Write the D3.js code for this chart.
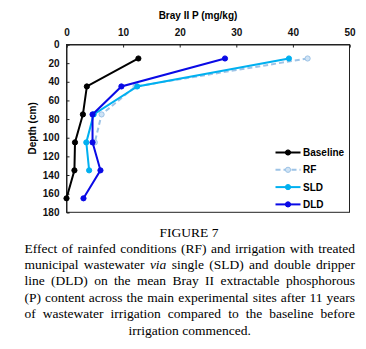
<!DOCTYPE html>
<html>
<head>
<meta charset="utf-8">
<script src="https://cdn.jsdelivr.net/npm/d3@7"></script>
<style>
  body { margin: 0; background: #fff; }
  svg { display: block; }
  .sans { font-family: Arial, Helvetica, "Liberation Sans", sans-serif; font-weight: bold; font-size: 10px; }
  .serif { font-family: "Times New Roman", Times, "Liberation Serif", serif; font-size: 13.5px; }
</style>
</head>
<body>
<div id="chart"></div>
<script>
var depths = [15, 45, 75, 105, 135, 165];
var baseline = [12.7, 3.6, 2.9, 1.5, 1.4, 0];
var rf = [42.6, 12.2, 6.2, 5.0];
var sld = [39.3, 12.5, 4.8, 3.5, 4.0];
var dld = [28.0, 9.7, 4.6, 4.6, 6.0, 3.0];
var xTicks = [0, 10, 20, 30, 40, 50];
var yTicks = [0, 20, 40, 60, 80, 100, 120, 140, 160, 180];

var series = [
  {name: "Baseline", values: baseline, color: "#000000", dash: null, fill: "#000000"},
  {name: "RF", values: rf, color: "#9dc3e6", dash: "5,3", fill: "#cfe3f5"},
  {name: "SLD", values: sld, color: "#00b0f0", dash: null, fill: "#00b0f0"},
  {name: "DLD", values: dld, color: "#0a0ae6", dash: null, fill: "#0a0ae6"}
];

var captionTitle = "FIGURE 7";
var captionLines = [
  "Effect of rainfed conditions (RF) and irrigation with treated",
  "municipal wastewater via single (SLD) and double dripper",
  "line (DLD) on the mean Bray II extractable phosphorous",
  "(P) content across the main experimental sites after 11 years",
  "of wastewater irrigation compared to the baseline before",
  "irrigation commenced."
];

var W = 366, H = 349;
var x = d3.scaleLinear().domain([0, 50]).range([66.5, 349.5]);
var y = d3.scaleLinear().domain([0, 180]).range([44.5, 212.3]);

var svg = d3.select("#chart").append("svg")
    .attr("width", W)
    .attr("height", H);

// plot frame
svg.append("rect")
    .attr("x", x(0)).attr("y", y(0))
    .attr("width", x(50) - x(0)).attr("height", y(180) - y(0))
    .attr("fill", "none").attr("stroke", "#222").attr("stroke-width", 1);

var gx = svg.append("g")
    .attr("transform", "translate(0," + y(0) + ")")
    .call(d3.axisTop(x).tickValues(xTicks).tickSize(-3).tickPadding(9));
var gy = svg.append("g")
    .attr("transform", "translate(" + x(0) + ",0)")
    .call(d3.axisLeft(y).tickValues(yTicks).tickSize(-3).tickPadding(7));

[gx, gy].forEach(function(g) {
  g.attr("font-family", null).attr("font-size", null);
  g.select(".domain").attr("stroke", "#222");
  g.selectAll(".tick line").attr("stroke", "#222");
  g.selectAll(".tick text").attr("class", "sans").attr("fill", "#111");
});

svg.append("text")
    .attr("class", "sans")
    .attr("x", (x(0) + x(50)) / 2 - 10)
    .attr("y", 19)
    .attr("text-anchor", "middle")
    .text("Bray II P (mg/kg)");

svg.append("text")
    .attr("class", "sans")
    .attr("transform", "translate(36," + (y(0) + y(180)) / 2 + ") rotate(-90)")
    .attr("text-anchor", "middle")
    .text("Depth (cm)");

var line = d3.line()
    .x(function(d) { return x(d.v); })
    .y(function(d) { return y(d.d); });

series.forEach(function(s) {
  var pts = s.values.map(function(v, i) { return {v: v, d: depths[i]}; });
  svg.append("path")
      .datum(pts)
      .attr("d", line)
      .attr("fill", "none")
      .attr("stroke", s.color)
      .attr("stroke-width", 2)
      .attr("stroke-dasharray", s.dash);
  svg.selectAll(null)
      .data(pts)
    .enter().append("circle")
      .attr("cx", function(d) { return x(d.v); })
      .attr("cy", function(d) { return y(d.d); })
      .attr("r", 2.6)
      .attr("fill", s.fill)
      .attr("stroke", s.color)
      .attr("stroke-width", 1);
});

// legend
var legend = svg.append("g");
series.forEach(function(s, i) {
  var ly = 152.5 + i * 17.3;
  legend.append("line")
      .attr("x1", 275.5).attr("x2", 300.5)
      .attr("y1", ly).attr("y2", ly)
      .attr("stroke", s.color).attr("stroke-width", 2)
      .attr("stroke-dasharray", s.dash);
  legend.append("circle")
      .attr("cx", 288).attr("cy", ly).attr("r", 2.6)
      .attr("fill", s.fill).attr("stroke", s.color);
  legend.append("text")
      .attr("class", "sans")
      .attr("x", 303).attr("y", ly).attr("dy", "0.35em")
      .text(s.name);
});

// caption
svg.append("text")
    .attr("class", "serif")
    .attr("x", 189).attr("y", 237)
    .attr("text-anchor", "middle")
    .text(captionTitle);

var capLeft = 24.5, capRight = 355, lineH = 16.4, firstBase = 252.5;
captionLines.forEach(function(txt, li) {
  var by = firstBase + li * lineH;
  var words = txt.split(" ");
  var last = li === captionLines.length - 1;
  var g = svg.append("g");
  var nodes = words.map(function(w) {
    return g.append("text")
        .attr("class", "serif")
        .attr("y", by)
        .style("font-style", w === "via" ? "italic" : "normal")
        .text(w);
  });
  var widths = nodes.map(function(n) { return n.node().getComputedTextLength(); });
  var total = d3.sum(widths);
  var gap, start;
  if (last) {
    gap = 3.4;
    start = (capLeft + capRight) / 2 - (total + gap * (words.length - 1)) / 2;
  } else {
    gap = (capRight - capLeft - total) / (words.length - 1);
    start = capLeft;
  }
  var cx = start;
  nodes.forEach(function(n, i) {
    n.attr("x", cx);
    cx += widths[i] + gap;
  });
});
</script>
</body>
</html>
